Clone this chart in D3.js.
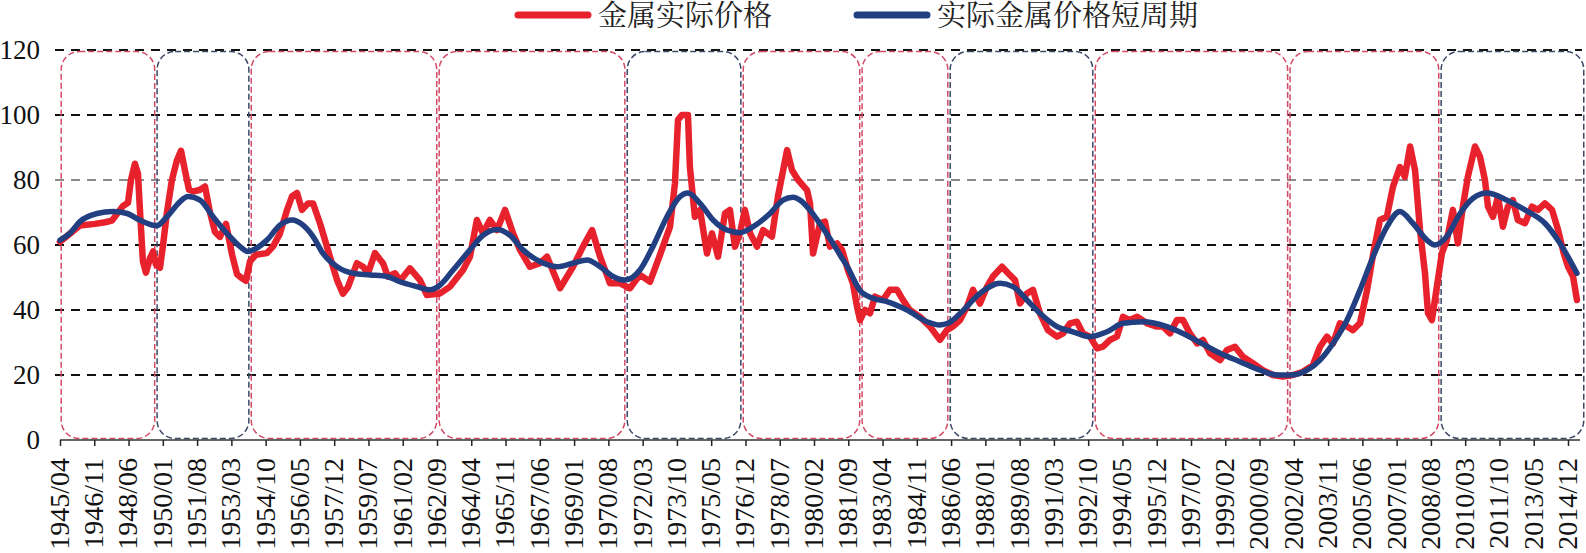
<!DOCTYPE html>
<html>
<head>
<meta charset="utf-8">
<script src="https://cdn.jsdelivr.net/npm/d3@7"></script>
<style>
  body { margin: 0; background: #fff; }
  svg { display: block; }
  .serif { font-family: 'Liberation Serif', 'Times New Roman', serif; }
  .legend-text { font-family: 'Liberation Serif', 'Noto Serif CJK SC', 'Noto Sans CJK SC', serif; }
</style>
</head>
<body>
<div id="chart"></div>
<script>
// Real metal price, [decimal year, value]
var metalPrice = [
  [1945.25,61],[1945.71,63.5],[1946.17,66],[1946.87,66.5],[1947.33,67],[1947.65,67.5],[1947.93,70],[1948.16,72],[1948.39,73],[1948.53,80],[1948.71,85],[1948.85,82],[1948.95,70],[1949.08,55],[1949.22,51.5],[1949.41,56],[1949.55,58],[1949.68,54],[1949.87,53],[1950.01,60],[1950.19,70],[1950.42,80],[1950.65,86],[1950.84,89],[1951.02,83],[1951.21,77],[1951.44,76.5],[1951.72,77],[1951.95,78],[1952.18,70],[1952.41,64],[1952.64,62.5],[1952.92,66.5],[1953.20,57],[1953.43,51],[1953.61,50],[1953.84,49],
  [1954.03,55],[1954.30,57],[1954.81,57.5],[1955.09,59.5],[1955.41,63.5],[1955.74,70.8],[1955.97,75],[1956.20,76],[1956.43,70.8],[1956.71,72.8],[1956.94,72.8],[1957.26,66.7],[1957.72,56.4],[1958.05,49.2],[1958.32,45],[1958.55,47],[1958.97,54.4],[1959.25,53.3],[1959.48,51.3],[1959.80,57.5],[1960.17,54.4],[1960.40,50.3],[1960.73,51.3],[1960.96,49],[1961.42,52.8],[1961.88,49.2],[1962.20,44.6],
  [1962.81,45.1],[1963.27,47.2],[1963.87,52.3],[1964.19,56.4],[1964.51,67.7],[1964.79,63.6],[1965.11,67.7],[1965.44,64.6],[1965.81,70.8],[1966.18,63.6],[1966.50,58.5],[1966.96,53.3],[1967.42,54.4],[1967.75,56.4],[1968.35,46.7],[1968.95,53.3],[1969.41,59.5],[1969.83,64.6],[1970.20,56.4],[1970.66,48.2],[1971.12,48.2],
  [1971.58,46.7],[1972.04,50.8],[1972.51,48.7],[1972.97,57],[1973.43,65.6],[1973.66,79],[1973.80,98.5],[1973.98,100],[1974.26,100],[1974.35,84],[1974.58,68.7],[1974.82,70.8],[1975.14,57.4],[1975.37,63.6],[1975.65,56.4],[1975.97,69.7],[1976.20,70.8],[1976.43,59.5],[1976.66,63.6],
  [1976.89,70.8],[1977.13,63.6],[1977.45,59.5],[1977.73,64.6],[1978.14,62.6],[1978.42,75],[1978.84,89.2],[1979.07,83],[1979.35,80],[1979.76,76.9],[1979.90,72.8],[1980.04,57.4],[1980.36,66.7],[1980.59,67.2],[1980.82,59.5],[1981.15,60.5],[1981.38,58.5],[1981.65,52.3],[1981.88,48.2],[1982.07,41],[1982.21,36.9],
  [1982.44,40],[1982.67,39],[1982.90,44.1],[1983.27,43.1],[1983.59,46.2],[1983.92,46.2],[1984.19,43.1],[1984.51,40],[1984.98,37.9],[1985.44,34.9],[1985.90,30.8],[1986.22,33.8],
  [1986.50,34.9],[1986.83,36.9],[1987.15,41],[1987.43,46.2],[1987.75,42],[1988.08,47.2],[1988.35,50.3],[1988.77,53.3],[1989.05,51.3],[1989.37,49.2],[1989.60,42],[1989.92,45.1],[1990.20,46.2],[1990.52,39],[1990.89,33.8],[1991.31,31.8],[1991.59,32.8],[1991.91,35.9],[1992.23,36.4],[1992.51,32.8],[1992.83,31.8],
  [1993.16,28.2],[1993.43,28.7],[1993.76,30.8],[1994.08,31.8],[1994.36,37.9],[1994.68,36.9],[1995.01,37.9],[1995.47,35.9],[1995.93,34.9],[1996.21,34.9],[1996.53,32.8],[1996.85,36.9],[1997.13,36.9],[1997.45,32.8],[1997.78,29.7],[1998.05,30.8],[1998.38,26.7],[1998.84,24.6],[1999.16,27.7],[1999.53,28.7],[1999.90,25.6],[2000.36,23.6],[2000.82,21.5],[2001.28,20],[2001.74,19.5],
  [2002.21,20],[2002.67,21],[2003.13,23],[2003.46,28.7],[2003.78,31.8],[2004.06,29.7],[2004.38,35.9],[2004.71,34.9],[2004.98,33.8],[2005.31,36],[2005.63,46],[2005.91,57],[2006.23,67.7],[2006.55,68.7],[2006.83,77.9],[2007.15,84],[2007.38,81],[2007.62,90.3],[2007.85,83],[2008.08,64.6],[2008.31,51.3],[2008.45,39],[2008.63,36.9],[2008.86,47.2],
  [2009.09,57.4],[2009.32,61.5],[2009.60,70.8],[2009.83,60.5],[2010.06,71.8],[2010.29,81],[2010.62,90.3],[2010.85,87.2],[2011.08,80],[2011.22,71.8],[2011.45,68.7],[2011.68,74.9],[2011.91,65.6],[2012.14,71.8],[2012.37,73.8],[2012.60,67.7],[2012.93,66.7],[2013.25,71.8],[2013.53,70.8],[2013.85,72.8],[2014.18,70.8],[2014.46,64.6],[2014.72,57.4],[2014.92,53.3],[2015.15,50.3],[2015.33,43.1]
];

// Short cycle of the real metal price, [decimal year, value]
var shortCycle = [
  [1945.25,61.5],[1945.71,63.6],[1946.17,67.2],[1946.96,69.7],[1947.70,70.3],[1948.35,69.7],[1948.95,67.6],[1949.55,66.1],[1949.73,66],[1950.19,68.7],[1950.79,73.3],[1951.16,74.9],[1951.72,73.8],[1952.32,68.7],[1952.96,63.6],[1953.57,59.5],[1953.93,58],
  [1954.17,58.5],[1954.81,61.5],[1955.41,66.1],[1955.97,67.7],[1956.48,66.1],[1956.94,62.6],[1957.40,57.4],[1958.05,53.3],[1958.79,51.3],[1959.57,50.8],[1960.36,50.3],[1960.96,48.7],[1961.74,47.2],[1962.34,46.2],
  [1962.81,47.7],[1963.41,52.3],[1964.19,58.5],[1964.79,63],[1965.44,64.8],[1966.04,63],[1966.64,58.5],[1967.42,54.9],[1968.21,53.3],[1968.95,54.4],[1969.60,55.4],[1970.20,53.3],[1970.80,50.3],[1971.35,49.2],
  [1972.04,52.3],[1972.64,59.5],[1973.29,68.7],[1973.89,74.9],[1974.26,76],[1974.82,72.8],[1975.42,67.7],[1976.06,64.6],[1976.66,63.8],
  [1977.26,65.6],[1978.05,69.7],[1978.65,73.8],[1979.11,74.7],[1979.44,73.8],[1980.04,69.5],[1980.36,66.5],[1980.96,60.5],[1981.28,57],[1981.61,53.5],[1982.21,46],
  [1982.81,43.6],[1983.45,42.6],[1984.38,40],[1985.30,36.4],[1985.90,35.4],[1986.27,35.9],
  [1986.83,38.9],[1987.75,45.1],[1988.68,48.2],[1989.27,47.2],[1989.92,43.1],[1990.52,39],[1991.31,34.9],[1992.05,33.3],[1992.83,31.8],
  [1993.62,33.3],[1994.36,35.9],[1995.28,36.4],[1996.39,34.9],[1997.13,32.8],[1997.92,30],[1998.84,26.7],[1999.76,24.1],[2000.69,21.5],[2001.47,20],[2002.07,20],
  [2002.86,21.5],[2003.46,24.6],[2004.06,29.7],[2004.71,36.9],[2005.31,46.2],[2005.91,56.4],[2006.55,65.6],[2007.15,70.3],[2007.75,66.7],[2008.40,61.5],[2008.77,60],
  [2009.32,62.6],[2009.93,69.7],[2010.53,74.4],[2011.17,76],[2012.10,73.8],[2012.93,70.8],[2013.85,66.7],[2014.55,60.5],[2015.33,51.3]
];

// Cycle phase boundaries (decimal years) and the kind of each phase between them
var phaseBounds = [1945.25, 1949.68, 1954.03, 1962.71, 1971.40, 1976.76, 1982.25, 1986.32, 1993.02, 2002.02, 2009.00, 2015.70];
var phaseKinds = ["A", "B", "A", "A", "B", "A", "A", "B", "A", "A", "B"];

// Axis tick labels (one every 19 months)
var tickLabels = ["1945/04","1946/11","1948/06","1950/01","1951/08","1953/03","1954/10","1956/05","1957/12","1959/07","1961/02","1962/09","1964/04","1965/11","1967/06","1969/01","1970/08","1972/03","1973/10","1975/05","1976/12","1978/07","1980/02","1981/09","1983/04","1984/11","1986/06","1988/01","1989/08","1991/03","1992/10","1994/05","1995/12","1997/07","1999/02","2000/09","2002/04","2003/11","2005/06","2007/01","2008/08","2010/03","2011/10","2013/05","2014/12"];
var yTicks = [0, 20, 40, 60, 80, 100, 120];

var seriesNames = ["金属实际价格", "实际金属价格短周期"];

var svgWidth = 1586;
var svgHeight = 553;

var svg = d3.select("#chart")
    .append("svg")
    .attr("width", svgWidth)
    .attr("height", svgHeight);

function parseYM(s) {
  var p = s.split("/");
  return +p[0] + (+p[1] - 1) / 12;
}

// Scales
var xScale = d3.scaleLinear()
    .domain([parseYM(tickLabels[0]), parseYM(tickLabels[tickLabels.length - 1])])
    .range([60, 1568]);

var yScale = d3.scaleLinear()
    .domain([0, 120])
    .range([440, 50]);

var phaseColor = d3.scaleOrdinal()
    .domain(["A", "B"])
    .range(["#d24a66", "#3c4866"]);

// Horizontal dashed grid lines
svg.append("g")
    .selectAll("line")
    .data(yTicks.filter(d => d > 0))
    .enter()
    .append("line")
    .attr("x1", 55)
    .attr("x2", 1582)
    .attr("y1", d => yScale(d))
    .attr("y2", d => yScale(d))
    .attr("stroke", d => d === 80 ? "#666" : "#111")
    .attr("stroke-width", d => d === 80 ? 1.6 : 2)
    .attr("stroke-dasharray", "9,7");

// Rounded dashed boxes marking each cycle phase
var phases = phaseKinds.map((k, i) => ({ kind: k, start: phaseBounds[i], end: phaseBounds[i + 1] }));

svg.append("g")
    .selectAll("rect")
    .data(phases)
    .enter()
    .append("rect")
    .attr("x", d => xScale(d.start) + 1.2)
    .attr("y", yScale(120) + 1.5)
    .attr("width", d => xScale(d.end) - xScale(d.start) - 2.4)
    .attr("height", yScale(0) - yScale(120) - 3)
    .attr("rx", 18)
    .attr("ry", 18)
    .attr("fill", "none")
    .attr("stroke", d => phaseColor(d.kind))
    .attr("stroke-width", 1.5)
    .attr("stroke-dasharray", "6,3");

// Y axis labels
svg.append("g")
    .selectAll("text")
    .data(yTicks)
    .enter()
    .append("text")
    .attr("class", "serif")
    .attr("x", 40)
    .attr("y", d => yScale(d))
    .attr("dy", "0.34em")
    .attr("text-anchor", "end")
    .style("font-size", "27px")
    .attr("fill", "#111")
    .text(d => d);

// X axis
var bottomAxis = d3.axisBottom(xScale)
    .tickValues(tickLabels.map(parseYM))
    .tickFormat((d, i) => tickLabels[i])
    .tickSize(6)
    .tickSizeOuter(0);

var xAxisGroup = svg.append("g")
    .attr("transform", `translate(0, ${yScale(0)})`)
    .call(bottomAxis);

xAxisGroup.select(".domain").remove();
xAxisGroup.insert("line", ":first-child")
    .attr("x1", xScale.range()[0])
    .attr("x2", 1580)
    .attr("stroke", "#333")
    .attr("stroke-width", 1.6);

xAxisGroup.selectAll(".tick line")
    .attr("stroke", "#222")
    .attr("stroke-width", 1.5);

xAxisGroup.selectAll(".tick text")
    .attr("class", "serif")
    .attr("transform", "rotate(-90)")
    .attr("x", -18)
    .attr("y", 0)
    .attr("dy", "0.3em")
    .attr("text-anchor", "end")
    .style("font-size", "28px")
    .attr("fill", "#111");

// Lines
var priceLine = d3.line()
    .x(d => xScale(d[0]))
    .y(d => yScale(d[1]));

var cycleLine = d3.line()
    .x(d => xScale(d[0]))
    .y(d => yScale(d[1]))
    .curve(d3.curveMonotoneX);

svg.append("path")
    .datum(metalPrice)
    .attr("d", priceLine)
    .attr("fill", "none")
    .attr("stroke", "#e8222c")
    .attr("stroke-width", 6.5)
    .attr("stroke-linejoin", "round")
    .attr("stroke-linecap", "round");

svg.append("path")
    .datum(shortCycle)
    .attr("d", cycleLine)
    .attr("fill", "none")
    .attr("stroke", "#223f82")
    .attr("stroke-width", 5.5)
    .attr("stroke-linejoin", "round")
    .attr("stroke-linecap", "round");

// Legend
var legendItems = [
  { name: seriesNames[0], color: "#e8222c", x: 518 },
  { name: seriesNames[1], color: "#223f82", x: 857 }
];

var legend = svg.append("g")
    .selectAll("g")
    .data(legendItems)
    .enter()
    .append("g")
    .attr("transform", d => `translate(${d.x}, 15)`);

legend.append("line")
    .attr("x1", 0)
    .attr("x2", 70)
    .attr("stroke", d => d.color)
    .attr("stroke-width", 7)
    .attr("stroke-linecap", "round");

legend.append("text")
    .attr("class", "legend-text")
    .attr("x", 80)
    .attr("y", 11)
    .style("font-size", "29px")
    .attr("fill", "#222")
    .text(d => d.name);
</script>
</body>
</html>
